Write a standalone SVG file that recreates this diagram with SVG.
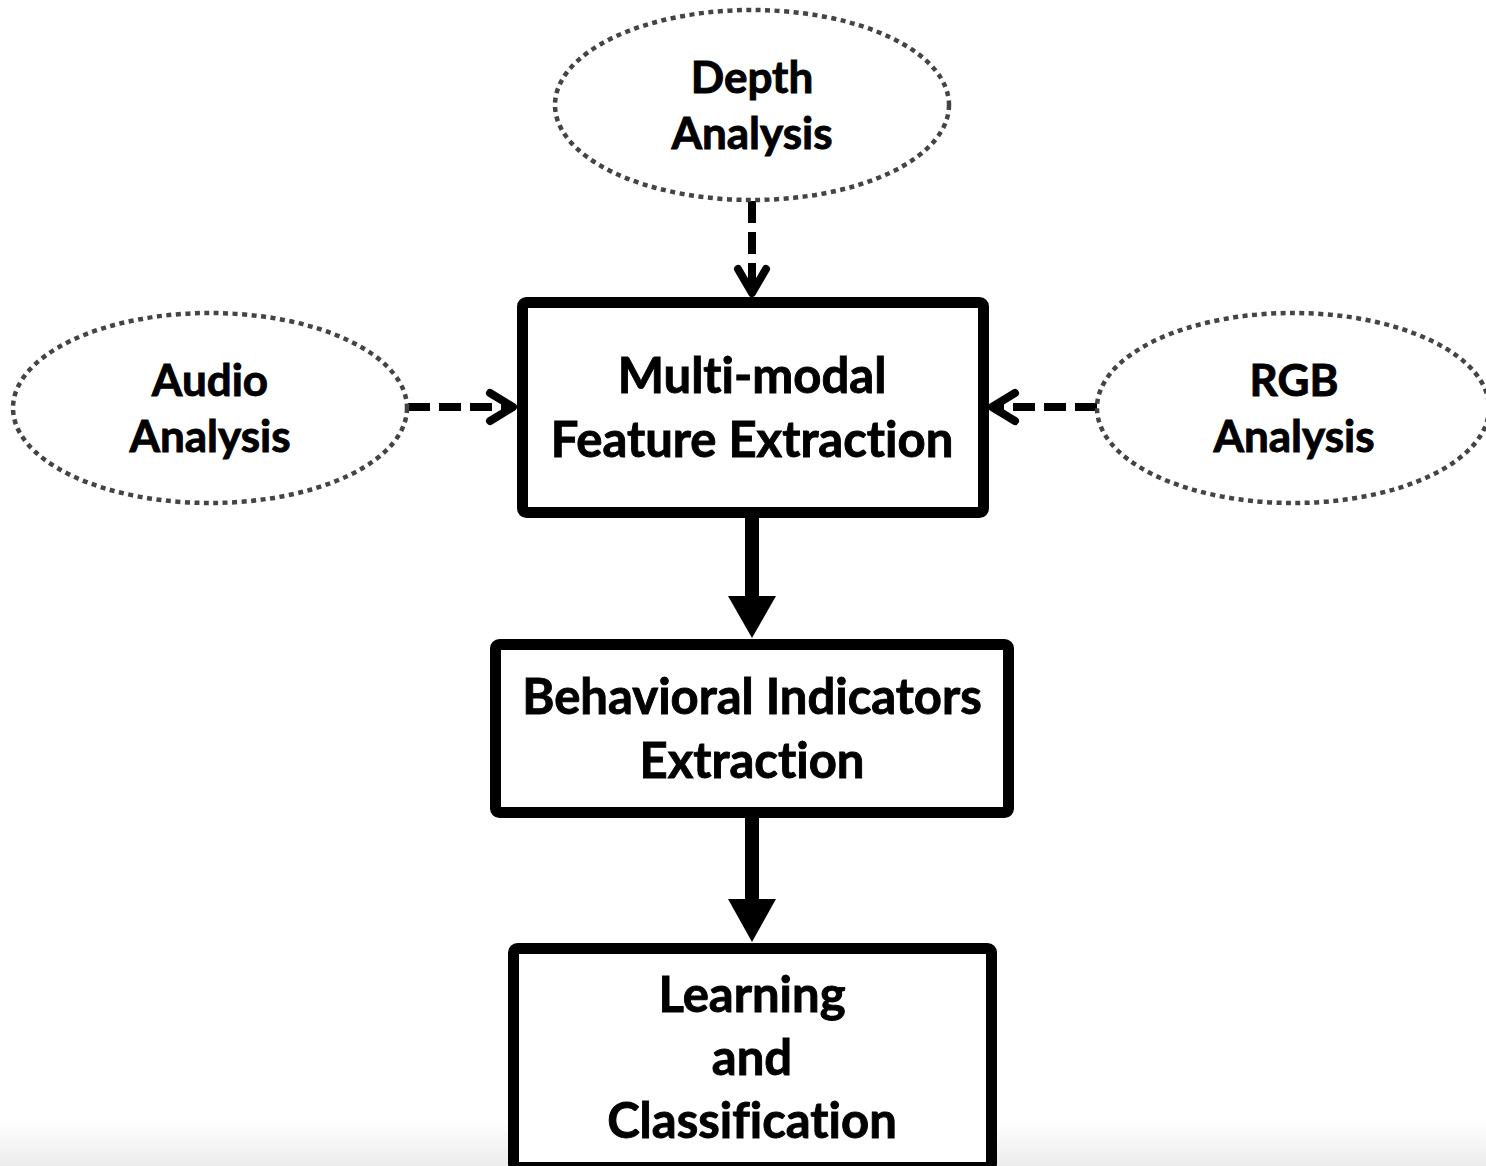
<svg xmlns="http://www.w3.org/2000/svg" width="1486" height="1166" viewBox="0 0 1486 1166">
<defs>
<linearGradient id="bottomShade" x1="0" y1="0" x2="0" y2="1">
<stop offset="0" stop-color="#ffffff"/>
<stop offset="1" stop-color="#ececec"/>
</linearGradient>
</defs>
<style>
.oval{fill:#ffffff;stroke:#444444;stroke-width:4.5;stroke-dasharray:5 4.5}
.box{fill:#ffffff;stroke:#000000;stroke-width:11}
.t{font-family:Lato,"Open Sans","Liberation Sans",sans-serif;font-weight:bold;fill:#000000;stroke:#000000;stroke-width:0.9;text-anchor:middle;font-variant-ligatures:none;font-feature-settings:"liga" 0,"clig" 0}
.big{font-size:49px}
.small{font-size:44px}
.dash{fill:none;stroke:#000000;stroke-width:8;stroke-dasharray:22 9}
.chev{fill:none;stroke:#000000;stroke-width:8;stroke-linecap:round;stroke-linejoin:round}
.shaft{stroke:#000000;stroke-width:14}
.head{fill:#000000}
</style>
<rect x="0" y="0" width="1486" height="1166" fill="#ffffff"/>
<rect x="0" y="1120" width="1486" height="46" fill="url(#bottomShade)"/>
<g id="connectors">
<line class="dash" x1="752" y1="201" x2="752" y2="292"/>
<polyline class="chev" points="738,269 752,293 766,269"/>
<line class="dash" x1="408" y1="407" x2="512" y2="407"/>
<polyline class="chev" points="490,393 513,407 490,421"/>
<line class="dash" x1="1097" y1="407" x2="992" y2="407"/>
<polyline class="chev" points="1015,393 992,407 1015,421"/>
<line class="shaft" x1="752" y1="517" x2="752" y2="600"/>
<polygon class="head" points="728,596 776,596 752,638"/>
<line class="shaft" x1="752" y1="818" x2="752" y2="903"/>
<polygon class="head" points="728,899 776,899 752,942"/>
</g>
<g id="depth">
<ellipse class="oval" cx="752" cy="105" rx="197" ry="95"/>
<text class="t small" x="752" y="93">Depth</text>
<text class="t small" x="752" y="149">Analysis</text>
</g>
<g id="audio">
<ellipse class="oval" cx="210" cy="408" rx="197" ry="95"/>
<text class="t small" x="210" y="396">Audio</text>
<text class="t small" x="210" y="452">Analysis</text>
</g>
<g id="rgb">
<ellipse class="oval" cx="1293" cy="408" rx="196" ry="95"/>
<text class="t small" x="1294" y="396">RGB</text>
<text class="t small" x="1294" y="452">Analysis</text>
</g>
<g id="feature">
<rect class="box" x="522.5" y="302.5" width="461" height="210" rx="4"/>
<text class="t big" x="752" y="393">Multi-modal</text>
<text class="t big" x="752" y="457">Feature Extraction</text>
</g>
<g id="behavior">
<rect class="box" x="495.5" y="644.5" width="513" height="168" rx="4"/>
<text class="t big" x="752" y="714">Behavioral Indicators</text>
<text class="t big" x="752" y="778">Extraction</text>
</g>
<g id="learning">
<rect class="box" x="513.5" y="948.5" width="478" height="219" rx="4"/>
<text class="t big" x="752" y="1012">Learning</text>
<text class="t big" x="752" y="1075">and</text>
<text class="t big" x="752" y="1138">Classification</text>
</g>
</svg>
